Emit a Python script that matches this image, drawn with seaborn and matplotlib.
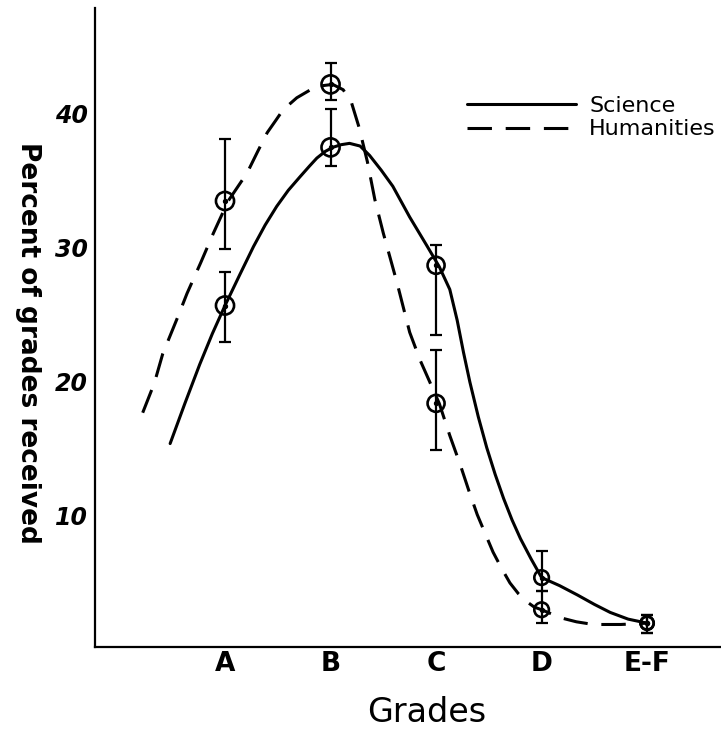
import numpy as np
import pandas as pd
import matplotlib.pyplot as plt
import seaborn as sns

# grade categories and measured points (percent of grades received)
grades = ["A", "B", "C", "D", "E-F"]
grade_pos = [0, 1, 2, 3, 4]

science_pct = [25.7, 37.5, 28.7, 5.4, 2.0]
science_low = [23.0, 36.1, 23.5, 4.4, 1.3]
science_high = [28.2, 40.4, 30.2, 7.4, 2.6]

humanities_pct = [33.5, 42.2, 18.4, 3.0, 2.0]
humanities_low = [29.9, 41.0, 14.9, 2.0, 1.3]
humanities_high = [38.1, 43.8, 22.4, 4.4, 2.6]

# hand-drawn curves
science_curve_x = [-0.52, -0.38, -0.24, -0.12, 0.0, 0.14, 0.27, 0.38, 0.49, 0.60, 0.71,
                   0.80, 0.87, 0.95, 1.02, 1.10, 1.18, 1.28, 1.37, 1.48, 1.59, 1.75,
                   1.91, 2.03, 2.13, 2.20, 2.26, 2.32, 2.40, 2.48, 2.56, 2.64, 2.72,
                   2.80, 2.90, 3.0, 3.17, 3.34, 3.50, 3.65, 3.82, 4.0]
science_curve_y = [15.4, 18.4, 21.3, 23.6, 25.7, 28.0, 30.1, 31.7, 33.1, 34.3, 35.3,
                   36.1, 36.7, 37.2, 37.5, 37.7, 37.8, 37.6, 36.9, 35.8, 34.6, 32.3,
                   30.2, 28.6, 26.9, 24.6, 22.2, 20.0, 17.4, 15.1, 13.1, 11.3, 9.7,
                   8.3, 6.8, 5.4, 4.8, 4.1, 3.4, 2.8, 2.3, 2.0]
humanities_curve_x = [-0.78, -0.67, -0.59, -0.45, -0.36, -0.23, -0.11, 0.03, 0.21, 0.31,
                      0.40, 0.48, 0.55, 0.68, 0.81, 0.92, 1.02, 1.12, 1.20, 1.27, 1.35,
                      1.42, 1.50, 1.63, 1.75, 1.85, 1.94, 2.03, 2.13, 2.23, 2.31, 2.39,
                      2.47, 2.54, 2.62, 2.70, 2.78, 2.86, 2.93, 3.0, 3.18, 3.33, 3.49,
                      3.75, 4.0]
humanities_curve_y = [17.7, 19.9, 22.1, 24.8, 26.6, 28.9, 31.1, 33.5, 35.6, 37.2,
                      38.6, 39.5, 40.3, 41.2, 41.8, 42.1, 42.2, 41.8, 40.8, 39.0, 36.4,
                      33.6, 31.1, 27.4, 23.7, 21.6, 20.0, 18.4, 16.0, 13.8, 11.9, 10.1,
                      8.6, 7.3, 6.1, 5.0, 4.2, 3.6, 3.2, 3.0, 2.4, 2.1, 1.9,
                      1.9, 2.0]

y_ticks = [10, 20, 30, 40]

sns.set_style("white")
plt.rcParams["font.family"] = ["DejaVu Sans"]
plt.rcParams["text.color"] = "black"
plt.rcParams["xtick.color"] = "black"
plt.rcParams["ytick.color"] = "black"

fig = plt.figure(figsize=(7.21, 7.30), dpi=100)
ax = fig.add_axes([95 / 721, 83 / 730, 626 / 721, 639 / 730])

sci_df = pd.DataFrame({"x": science_curve_x, "y": science_curve_y})
hum_df = pd.DataFrame({"x": humanities_curve_x, "y": humanities_curve_y})

sns.lineplot(data=sci_df, x="x", y="y", sort=False, estimator=None, color="black",
             lw=2.2, ax=ax, label="Science")
sns.lineplot(data=hum_df, x="x", y="y", sort=False, estimator=None, color="black",
             lw=2.2, ls=(0, (8, 4.5)), ax=ax, label="Humanities")

# error bars + open circles
for pct, low, high in [(science_pct, science_low, science_high),
                       (humanities_pct, humanities_low, humanities_high)]:
    pct = np.array(pct)
    yerr = [pct - np.array(low), np.array(high) - pct]
    ax.errorbar(grade_pos, pct, yerr=yerr, fmt="none", ecolor="black",
                elinewidth=1.6, capsize=4.5, capthick=1.6, zorder=3)
    ax.scatter(grade_pos, pct, s=[170, 170, 150, 110, 90], facecolor="none",
               edgecolor="black", linewidth=1.9, zorder=4)
    ax.scatter(grade_pos, pct, s=8, color="black", zorder=5)

ax.set_xlim(-1.232, 4.70)
ax.set_ylim(0.22, 47.9)
ax.set_xticks(grade_pos, grades)
ax.set_yticks(y_ticks)
ax.tick_params(axis="x", length=0, pad=3, labelsize=19, labelcolor="black")
ax.tick_params(axis="y", length=0, pad=5, labelsize=17, labelcolor="black")
for lab in ax.get_yticklabels():
    lab.set_fontstyle("italic")
    lab.set_fontweight("bold")
for lab in ax.get_xticklabels():
    lab.set_fontweight("bold")
ax.set_xlabel("")
ax.set_ylabel("")

sns.despine(ax=ax)
for sp in ["left", "bottom"]:
    ax.spines[sp].set_linewidth(1.6)
    ax.spines[sp].set_color("black")

leg = ax.legend(loc="upper left", bbox_to_anchor=((467 - 95) / 626, (647 - 96) / 639),
                frameon=False, handlelength=4.9, handletextpad=0.6, labelspacing=0.15,
                borderaxespad=0, borderpad=0, fontsize=16)
for t in leg.get_texts():
    t.set_color("black")

fig.text(427 / 721, 1 - 712 / 730, "Grades", ha="center", va="center", fontsize=24)
fig.text(28 / 721, 1 - 343 / 730, "Percent of grades received", ha="center",
         va="center", rotation=270, fontsize=19, fontweight="bold")

fig.savefig("out.png", dpi=100)
